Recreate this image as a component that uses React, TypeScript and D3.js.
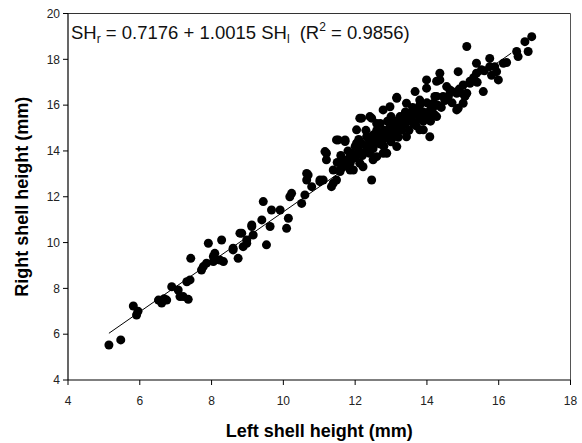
import React from "react";
import * as d3 from "d3";

const leftShell: number[] = [
  5.14, 5.47, 5.82, 5.91, 5.95, 6.52, 6.61, 6.75, 6.68, 6.89, 7.07, 7.12, 7.21, 7.35, 7.31, 7.4, 7.42,
  7.72, 7.77, 7.86, 7.91, 8.05, 8.05, 8.09, 8.23, 8.28, 8.33, 8.6, 8.6, 8.74, 8.79, 8.84, 8.88, 8.98, 8.98,
  9.12, 9.12, 9.16, 9.4, 9.44, 9.53, 9.63, 9.67, 9.91, 10.09, 10.14, 10.18, 10.23, 10.51, 10.6, 10.65,
  10.65, 10.69, 10.79, 11.02, 11.02, 11.11, 11.16, 11.2, 11.2, 11.34, 11.39, 11.39, 11.48, 11.48, 11.53,
  11.58, 11.58, 11.67, 11.72, 11.72, 11.86, 11.86, 11.86, 11.95, 12.04, 12.04, 12.13, 12.13, 12.18, 12.22,
  12.22, 12.32, 12.41, 12.46, 12.46, 12.5, 12.5, 12.6, 12.6, 12.78, 12.78, 12.78, 12.88, 12.97, 12.97,
  13.06, 13.16, 13.16, 13.16, 13.25, 13.43, 13.43, 13.53, 13.62, 13.67, 13.71, 13.8, 13.8, 13.9, 13.99,
  13.99, 14.08, 14.08, 14.08, 14.18, 14.18, 14.22, 14.27, 14.27, 14.27, 14.36, 14.36, 14.45, 14.55, 14.64,
  14.83, 14.83, 14.87, 14.87, 15.01, 15.01, 15.06, 15.11, 15.11, 15.2, 15.2, 15.38, 15.38, 15.52, 15.57,
  15.75, 15.75, 15.89, 15.94, 15.99, 16.13, 16.22, 16.5, 16.54, 16.73, 16.82, 16.92,
  11.5, 11.6, 11.7, 11.8, 11.9, 12.0, 12.0, 12.1, 12.1, 12.2, 12.2, 12.3, 12.3, 12.4, 12.4, 12.5, 12.5,
  12.6, 12.6, 12.7, 12.7, 12.7, 12.8, 12.8, 12.9, 12.9, 13.0, 13.0, 13.0, 13.1, 13.1, 13.2, 13.2, 13.3,
  13.3, 13.4, 13.4, 13.5, 13.5, 13.6, 13.6, 13.7, 13.7, 13.8, 13.8, 13.9, 13.9, 14.0, 14.0, 14.1, 14.1,
  14.2, 14.3, 14.4, 14.5, 14.6, 14.7, 14.7, 14.9, 15.0, 15.3, 15.4, 15.6, 15.8,
  12.55, 12.85, 13.15, 13.45, 12.35, 12.65, 13.05, 13.35,
];

const rightShell: number[] = [
  5.53, 5.75, 7.23, 6.84, 7.0, 7.49, 7.36, 7.49, 7.55, 8.07, 7.93, 7.64, 7.64, 7.52, 8.29, 8.37, 9.31,
  8.8, 8.95, 9.1, 9.97, 9.17, 9.39, 9.53, 9.24, 10.11, 9.17, 9.68, 9.75, 9.31, 10.41, 10.41, 9.82, 10.11, 9.97,
  10.77, 10.7, 10.33, 10.99, 11.79, 9.9, 10.7, 11.42, 11.42, 10.62, 11.06, 12.0, 12.15, 11.71, 12.08, 13.02,
  12.73, 12.95, 12.44, 12.66, 12.73, 12.73, 13.97, 13.9, 13.61, 12.44, 12.59, 13.17, 14.48, 12.73, 14.48,
  13.1, 13.17, 13.31, 14.41, 14.48, 13.46, 13.75, 13.17, 13.17, 14.34, 14.92, 15.43, 13.46, 15.43, 13.9,
  13.31, 14.62, 15.5, 15.43, 12.73, 14.33, 13.61, 13.75, 15.2, 15.79, 14.48, 13.9, 13.9, 15.06, 15.93,
  14.62, 14.19, 16.3, 16.34, 15.5, 14.62, 16.08, 15.64, 15.2, 16.59, 15.79, 14.92, 16.22, 14.92, 16.74,
  17.1, 14.62, 15.64, 15.72, 16.08, 15.93, 16.38, 15.5, 16.38, 17.04, 17.39, 17.1, 16.38, 16.81, 16.66,
  15.79, 16.52, 17.46, 15.86, 16.88, 16.08, 16.38, 16.52, 18.56, 16.95, 17.04, 17.83, 17.39, 17.54, 16.59,
  18.04, 17.68, 17.68, 17.46, 17.1, 17.83, 17.86, 18.34, 18.12, 18.77, 18.34, 18.99,
  13.5, 13.8, 13.6, 14.0, 13.9, 13.7, 14.2, 14.0, 14.5, 14.3, 13.8, 14.0, 14.9, 14.4, 13.9, 14.7, 14.1,
  14.5, 14.9, 14.3, 14.7, 15.2, 14.9, 14.2, 14.6, 15.3, 14.4, 15.0, 15.5, 14.8, 15.3, 14.6, 15.1, 15.4,
  14.9, 15.2, 15.7, 14.9, 15.5, 15.3, 15.9, 15.1, 15.6, 15.4, 16.0, 15.7, 15.3, 15.5, 16.1, 15.8, 15.3,
  15.6, 16.0, 15.9, 16.2, 16.4, 16.1, 16.6, 16.7, 16.5, 17.2, 17.0, 17.5, 17.3,
  14.45, 14.75, 14.95, 15.35, 14.15, 14.35, 14.85, 15.15,
];

// fitted line as drawn in the figure (end points)
const fitLeft: number[] = [5.14, 16.35];
const fitRight: number[] = [6.04, 18.27];

const xTicks: number[] = [4, 6, 8, 10, 12, 14, 16, 18];
const yTicks: number[] = [4, 6, 8, 10, 12, 14, 16, 18, 20];

const W = 582;
const H = 443;
const M = { left: 68, right: 11.5, top: 13.5, bottom: 63 };

export default function App() {
  const x = d3.scaleLinear().domain([4, 18]).range([M.left, W - M.right]);
  const y = d3.scaleLinear().domain([4, 20]).range([H - M.bottom, M.top]);
  const pts = leftShell.map((lx, i) => [lx, rightShell[i]] as [number, number]);
  const line = d3
    .line<number>()
    .x((d) => x(fitLeft[d]))
    .y((d) => y(fitRight[d]));
  const x0 = x(4), x1 = x(18), y0 = y(4), y1 = y(20);
  const font = "'Liberation Sans', Arial, sans-serif";
  return (
    <svg
      width={W}
      height={H}
      style={{ position: "absolute", left: 0, top: 0, background: "#fff" }}
      fontFamily={font}
    >
      <rect x={0} y={0} width={W} height={H} fill="#fff" />
      <line x1={x0} x2={x1} y1={y1} y2={y1} stroke="#333" strokeWidth={1} />
      <line x1={x1} x2={x1} y1={y1} y2={y0} stroke="#555" strokeWidth={1} />
      <line x1={x0} x2={x0} y1={y1} y2={y0} stroke="#000" strokeWidth={1.2} />
      <line x1={x0} x2={x1} y1={y0} y2={y0} stroke="#000" strokeWidth={1.2} />
      {yTicks.map((t) => (
        <g key={"y" + t}>
          <line x1={x0 - 5} x2={x0} y1={y(t)} y2={y(t)} stroke="#000" />
          <text x={x0 - 8} y={y(t)} dy="0.35em" textAnchor="end" fontSize={12} fill="#222">
            {t}
          </text>
        </g>
      ))}
      {xTicks.map((t) => (
        <g key={"x" + t}>
          <line x1={x(t)} x2={x(t)} y1={y0} y2={y0 + 5} stroke="#000" />
          <text x={x(t)} y={y0 + 25} textAnchor="middle" fontSize={12} fill="#222">
            {t}
          </text>
        </g>
      ))}
      <path d={line([0, 1]) || ""} stroke="#000" strokeWidth={1} fill="none" />
      {pts.map((p, i) => (
        <circle key={i} cx={x(p[0])} cy={y(p[1])} r={4.5} fill="#000" />
      ))}
      <text x={71} y={39} fontSize={18.5} fill="#111" xmlSpace="preserve">
        <tspan>SH</tspan>
        <tspan fontSize={12} dy={4}>r</tspan>
        <tspan dy={-4}> = 0.7176 + 1.0015 SH</tspan>
        <tspan fontSize={12} dy={4}>l</tspan>
        <tspan dy={-4} dx={5}> (R</tspan>
        <tspan fontSize={12} dy={-8}>2</tspan>
        <tspan dy={8}> = 0.9856)</tspan>
      </text>
      <text
        x={(x0 + x1) / 2}
        y={437}
        textAnchor="middle"
        fontSize={18}
        fontWeight="bold"
        fill="#000"
      >
        Left shell height (mm)
      </text>
      <text
        transform={`translate(28,${(y0 + y1) / 2}) rotate(-90)`}
        textAnchor="middle"
        fontSize={18}
        fontWeight="bold"
        fill="#000"
      >
        Right shell height (mm)
      </text>
    </svg>
  );
}
